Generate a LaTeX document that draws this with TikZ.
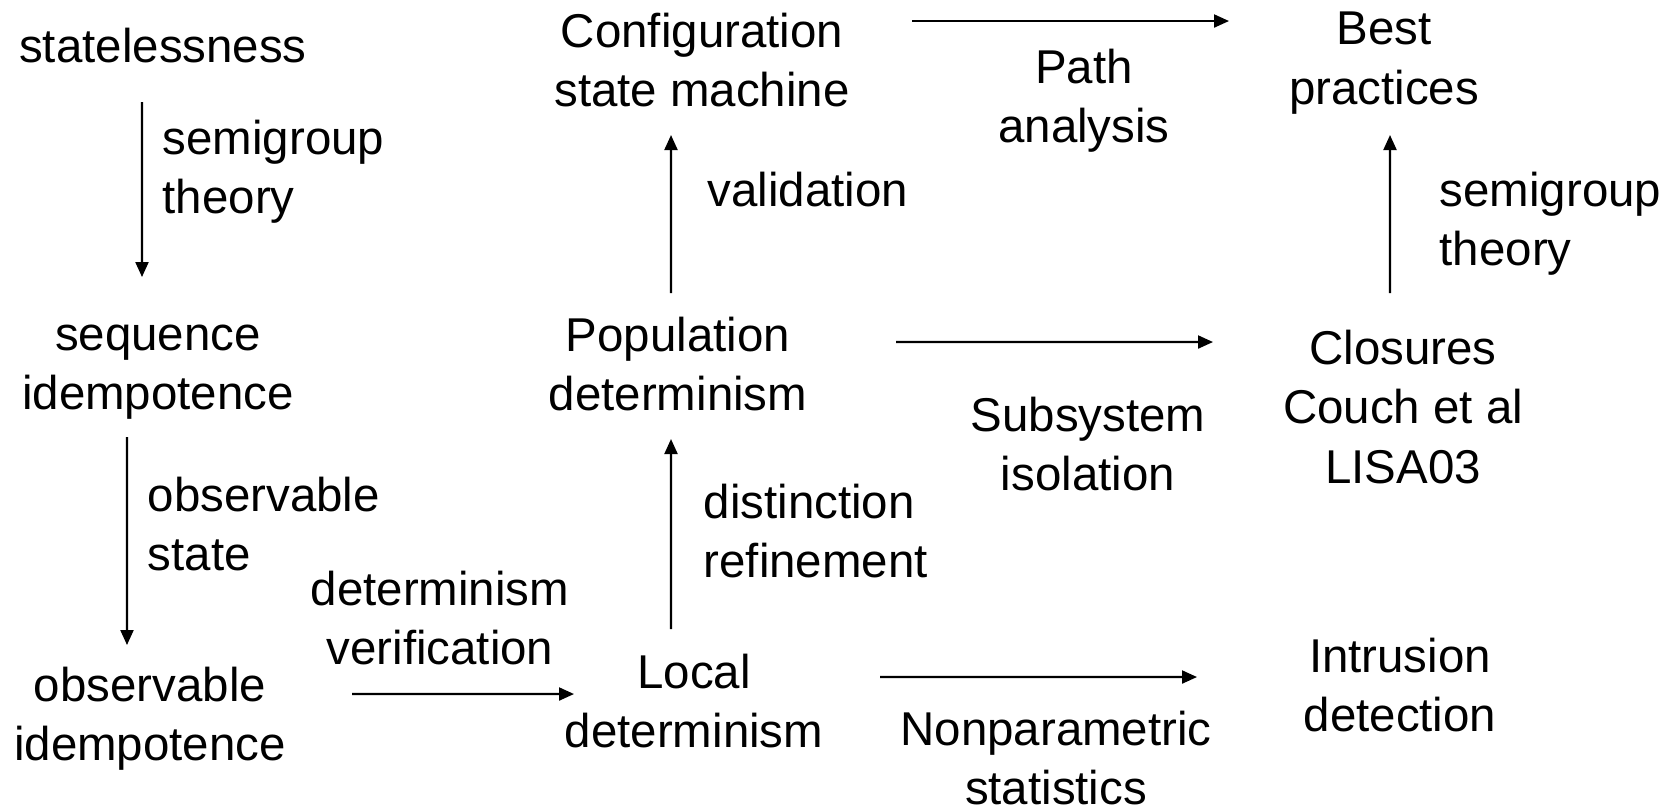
\documentclass[tikz,border=0pt]{standalone}
\usepackage{fontspec}
\setmainfont{Liberation Sans}
\usepackage{tikz}
\usetikzlibrary{arrows.meta}
\tikzstyle{concept} = [inner sep=0pt, align=center, font=\fontsize{13.5}{16.9}\selectfont]
\tikzstyle{note} = [inner sep=0pt, align=left, anchor=west, font=\fontsize{13.5}{16.9}\selectfont]
\tikzstyle{cnote} = [inner sep=0pt, align=center, font=\fontsize{13.5}{16.9}\selectfont]
\tikzstyle{arrow} = [line width=0.6pt, -{Triangle[length=0.15cm, width=0.13cm]}]

\begin{document}
\begin{tikzpicture}

  \useasboundingbox (0,0) rectangle (16.72,-8.10);

  \node (stl) [concept] at (1.63,-0.46) {statelessness};
  \node (seq) [concept] at (1.58,-3.72) {sequence\\idempotence};
  \node (obs) [concept] at (1.50,-7.19) {observable\\idempotence};
  \node (loc) [concept] at (6.94,-7.01) {Local\\determinism};
  \node (pop) [concept] at (6.78,-3.64) {Population\\determinism};
  \node (cfg) [concept] at (7.02,-0.60) {Configuration\\state machine};
  \node (best) [concept] at (13.84,-0.63) {Best\\practices};
  \node (clo) [concept] at (14.03,-4.07) {Closures\\Couch et al\\LISA03};
  \node (intr) [concept] at (14.00,-6.85) {Intrusion\\detection};

  \node (semi) [note] at (1.62,-1.72) {semigroup\\theory};
  \node (obst) [note] at (1.47,-5.24) {observable\\state};
  \node (dver) [cnote] at (4.40,-6.18) {determinism\\verification};
  \node (dref) [note] at (7.03,-5.31) {distinction\\refinement};
  \node (vali) [note] at (7.07,-1.90) {validation};
  \node (path) [cnote] at (10.84,-1.01) {Path\\analysis};
  \node (semr) [note] at (14.39,-2.24) {semigroup\\theory};
  \node (subs) [cnote] at (10.88,-4.44) {Subsystem\\isolation};
  \node (npar) [cnote] at (10.56,-7.58) {Nonparametric\\statistics};

  \draw [arrow] ([shift={(-0.21,-0.56)}]stl.center) -- ([shift={(-0.16,0.95)}]seq.center);
  \draw [arrow] ([shift={(-0.31,-0.65)}]seq.center) -- ([shift={(-0.23,0.74)}]obs.center);
  \draw [arrow] ([shift={(2.02,0.25)}]obs.center) -- ([shift={(-1.20,0.07)}]loc.center);
  \draw [arrow] ([shift={(-0.23,0.72)}]loc.center) -- ([shift={(-0.07,-0.75)}]pop.center);
  \draw [arrow] ([shift={(-0.07,0.71)}]pop.center) -- ([shift={(-0.31,-0.75)}]cfg.center);
  \draw [arrow] ([shift={(2.10,0.39)}]cfg.center) -- ([shift={(-1.55,0.42)}]best.center);
  \draw [arrow] ([shift={(-0.13,1.14)}]clo.center) -- ([shift={(0.06,-0.72)}]best.center);
  \draw [arrow] ([shift={(2.18,0.22)}]pop.center) -- ([shift={(-1.90,0.65)}]clo.center);
  \draw [arrow] ([shift={(1.86,0.24)}]loc.center) -- ([shift={(-2.03,0.08)}]intr.center);

\end{tikzpicture}
\end{document}
